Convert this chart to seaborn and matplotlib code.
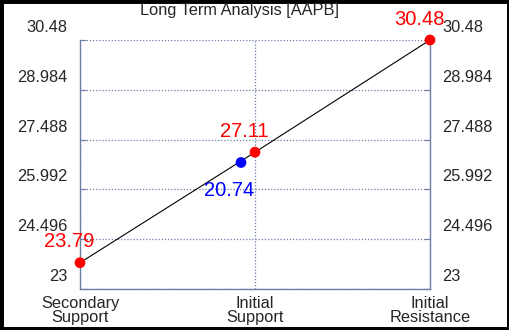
import matplotlib
matplotlib.use("Agg")
import matplotlib.pyplot as plt
import matplotlib.transforms as mtransforms
from matplotlib.patches import Rectangle
import seaborn as sns
import pandas as pd

# chart data
categories = ["Secondary\nSupport", "Initial\nSupport", "Initial\nResistance"]
levels = [23.79, 27.11, 30.48]
level_labels = ["23.79", "27.11", "30.48"]
current_pos = [0.92]
current_level = [26.8]
current_labels = ["20.74"]
y_ticks = [23, 24.496, 25.992, 27.488, 28.984, 30.48]
y_tick_labels = ["23", "24.496", "25.992", "27.488", "28.984", "30.48"]
title = "Long Term Analysis [AAPB]"

grid_col = "#6d7fa5"
fs = 11.8

sns.set_style("white")
plt.rcParams["font.family"] = ["Liberation Sans", "DejaVu Sans"]

df = pd.DataFrame({"pos": range(len(categories)), "level": levels})
cur = pd.DataFrame({"pos": current_pos, "level": current_level})

fig = plt.figure(figsize=(5.1, 3.3), dpi=100)
ax = fig.add_axes([80 / 510, 41 / 330, 350 / 510, 249 / 330])

sns.lineplot(data=df, x="pos", y="level", color="black", linewidth=0.8, ax=ax)
sns.scatterplot(data=df, x="pos", y="level", color="#ff0000", s=60, edgecolor="none",
                zorder=5, clip_on=False, ax=ax)
sns.scatterplot(data=cur, x="pos", y="level", color="#0000ff", s=60, edgecolor="none",
                zorder=5, clip_on=False, ax=ax)

for x, y, t in zip(df["pos"], df["level"], level_labels):
    ax.annotate(t, (x, y), xytext=(-7.5, 15), textcoords="offset points",
                ha="center", va="center", color="#ff0000", fontsize=14.5, annotation_clip=False)
for x, y, t in zip(cur["pos"], cur["level"], current_labels):
    ax.annotate(t, (x, y), xytext=(-8.5, -20), textcoords="offset points",
                ha="center", va="center", color="#0000ff", fontsize=14.5, annotation_clip=False)

ax.set_xlim(0, len(categories) - 1)
ax.set_ylim(y_ticks[0], y_ticks[-1])
ax.set_xticks(range(len(categories)))
ax.set_xticklabels(categories, fontsize=fs, linespacing=0.95)
ax.set_yticks(y_ticks)
ax.set_yticklabels(y_tick_labels, fontsize=fs)
ax.set_xlabel("")
ax.set_ylabel("")

ax.tick_params(axis="y", direction="in", length=4, color=grid_col, pad=9,
               left=True, right=True, labelleft=True, labelright=True, labelsize=fs)
ax.tick_params(axis="x", length=0, pad=5)

# tick labels sit above their grid line, on both sides
shift = mtransforms.ScaledTranslation(0, 14 / 100, fig.dpi_scale_trans)
for t in ax.yaxis.get_major_ticks():
    t.label1.set_transform(t.label1.get_transform() + shift)
    t.label2.set_transform(t.label2.get_transform() + shift)

ax.grid(True, color=grid_col, linestyle=(0, (1, 1.5)), linewidth=0.9)
for side in ["left", "right", "bottom"]:
    ax.spines[side].set_color(grid_col)
    ax.spines[side].set_linewidth(1.0)
ax.spines["top"].set_visible(False)

fig.text(240 / 510, 1 - 15 / 330, title, ha="center", va="baseline", fontsize=fs)

fig.patches.append(Rectangle((0, 0), 1, 1, transform=fig.transFigure, fill=False,
                             edgecolor="black", linewidth=5))

fig.savefig("out.png", dpi=100)
